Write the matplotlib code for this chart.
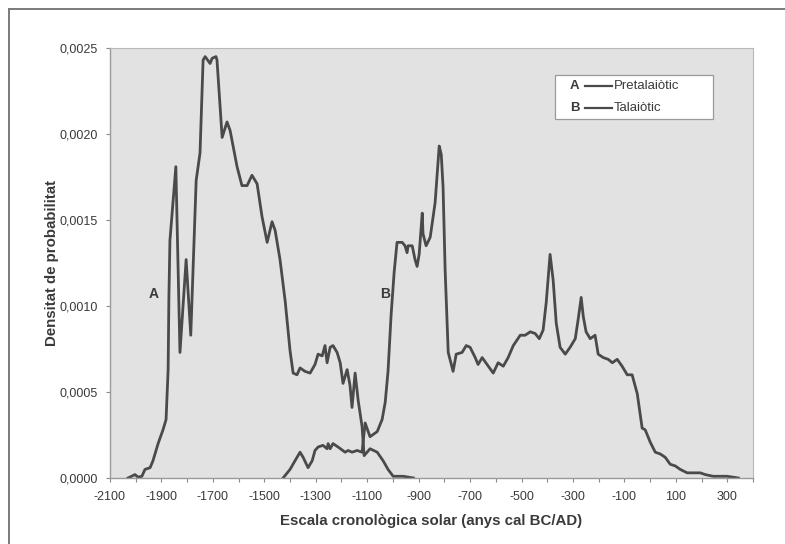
import matplotlib
matplotlib.use("Agg")
import matplotlib.pyplot as plt
from matplotlib.lines import Line2D
from matplotlib.patches import Rectangle
from matplotlib.ticker import FuncFormatter, MultipleLocator, FixedLocator

plt.rcParams['font.family'] = ['Liberation Sans', 'DejaVu Sans']

# Summed calibrated probability densities (year cal BC/AD, density)
pretalaiotic_years = [
    -2030, -2016, -2003, -1991, -1976, -1964, -1944, -1933, -1913, -1894,
    -1882, -1874, -1871, -1867, -1844, -1828, -1804, -1786, -1765, -1750,
    -1738, -1730, -1711, -1703, -1688, -1684, -1664, -1645, -1633, -1606,
    -1587, -1567, -1548, -1528, -1509, -1489, -1470, -1458, -1439, -1419,
    -1400, -1388, -1373, -1361, -1342, -1322, -1303, -1291, -1275, -1264,
    -1256, -1244, -1233, -1217, -1205, -1194, -1178, -1167, -1159, -1147,
    -1135, -1120, -1112, -1089, -1061, -1038, -1019, -999, -960, -920,
]
pretalaiotic_density = [
    0.0, 0.00001, 0.00002, 0.000005, 0.00001, 0.00005, 0.00006, 0.0001, 0.0002, 0.00028,
    0.00034, 0.00063, 0.00105, 0.00138, 0.00181, 0.00073, 0.00127, 0.00083, 0.00173, 0.00189,
    0.00243, 0.00245, 0.00241, 0.00244, 0.00245, 0.00243, 0.00198, 0.00207, 0.00202, 0.00181,
    0.0017, 0.0017, 0.00176, 0.00171, 0.00152, 0.00137, 0.00149, 0.00144, 0.00127, 0.00103,
    0.00074, 0.00061, 0.0006, 0.00064, 0.00062, 0.00061, 0.00066, 0.00072, 0.00071, 0.00077,
    0.00067, 0.00076, 0.00077, 0.00073, 0.00067, 0.00055, 0.00063, 0.00054, 0.00041, 0.00061,
    0.00045, 0.0003, 0.00013, 0.00017, 0.00015, 0.0001, 0.00005, 0.00001, 0.00001, 0.0,
]

talaiotic_years = [
    -1427, -1400, -1373, -1361, -1349, -1330, -1314, -1303, -1291, -1272,
    -1256, -1252, -1244, -1233, -1213, -1186, -1174, -1159, -1139, -1120,
    -1108, -1089, -1061, -1042, -1030, -1019, -1007, -995, -984, -964,
    -953, -945, -941, -925, -914, -906, -898, -886, -883, -871,
    -855, -836, -820, -812, -805, -797, -785, -766, -754, -731,
    -715, -700, -680, -669, -653, -634, -610, -591, -571, -552,
    -532, -505, -486, -466, -447, -431, -416, -404, -389, -377,
    -365, -350, -330, -311, -291, -280, -268, -260, -249, -233,
    -214, -202, -182, -163, -147, -128, -109, -89, -70, -50,
    -31, -19, 0, 20, 39, 59, 78, 98, 117, 144,
    195, 214, 245, 300, 343,
]
talaiotic_density = [
    0.0, 0.00005, 0.00012, 0.00015, 0.00012, 0.00006, 0.0001, 0.00016, 0.00018, 0.00019,
    0.00017, 0.0002, 0.00017, 0.0002, 0.00018, 0.00015, 0.00016, 0.00015, 0.00016, 0.00015,
    0.00032, 0.00024, 0.00027, 0.00034, 0.00044, 0.00062, 0.00095, 0.0012, 0.00137, 0.00137,
    0.00135, 0.00131, 0.00135, 0.00135, 0.00127, 0.00123, 0.0013, 0.00154, 0.00142, 0.00135,
    0.0014, 0.0016, 0.00193, 0.00188, 0.00169, 0.00121, 0.00073, 0.00062, 0.00072, 0.00073,
    0.00077, 0.00076, 0.0007, 0.00066, 0.0007, 0.00066, 0.00061, 0.00067, 0.00065, 0.0007,
    0.00077, 0.00083, 0.00083, 0.00085, 0.00084, 0.00081, 0.00086, 0.00102, 0.0013, 0.00115,
    0.0009, 0.00076, 0.00072, 0.00076, 0.00081, 0.00092, 0.00105, 0.00094, 0.00085, 0.00081,
    0.00083, 0.00072, 0.0007, 0.00069, 0.00067, 0.00069, 0.00065, 0.0006, 0.0006, 0.00049,
    0.00029, 0.00028, 0.00021, 0.00015, 0.00014, 0.00012, 0.00008, 0.00007, 0.00005, 0.00003,
    0.00003, 0.00002, 0.00001, 0.00001, 0.0,
]

series_letters = ["A", "B"]
series_names = ["Pretalaiòtic", "Talaiòtic"]

x_tick_labels = [-2100, -1900, -1700, -1500, -1300, -1100, -900, -700, -500, -300, -100, 100, 300]
y_tick_values = [0.0, 0.0005, 0.0010, 0.0015, 0.0020, 0.0025]

line_color = "#4a4a4a"
text_color = "#3a3a3a"

fig = plt.figure(figsize=(7.85, 5.44), dpi=100)
ax = fig.add_axes([110 / 785, 1 - 478 / 544, 643 / 785, 430 / 544])
ax.set_facecolor("#e2e2e2")

# page frame lines
fig.add_artist(Line2D([9 / 785, 1.0], [1 - 9 / 544, 1 - 9 / 544], color="#7a7a7a", lw=1.4,
                      transform=fig.transFigure))
fig.add_artist(Line2D([9 / 785, 9 / 785], [0.0, 1 - 9 / 544], color="#7a7a7a", lw=1.4,
                      transform=fig.transFigure))

ax.plot(pretalaiotic_years, pretalaiotic_density, color=line_color, lw=2.0, solid_joinstyle="round")
ax.plot(talaiotic_years, talaiotic_density, color=line_color, lw=2.0, solid_joinstyle="round")

ax.set_xlim(-2100, 400)
ax.set_ylim(0, 0.0025)

ax.xaxis.set_major_locator(FixedLocator(x_tick_labels))
ax.xaxis.set_minor_locator(MultipleLocator(100))
ax.yaxis.set_major_locator(FixedLocator(y_tick_values))
ax.yaxis.set_major_formatter(FuncFormatter(lambda v, p: f"{v:.4f}".replace(".", ",")))
ax.xaxis.set_major_formatter(FuncFormatter(lambda v, p: f"{int(v)}"))

ax.tick_params(axis="both", which="both", direction="out", length=3, width=0.8,
               color="#8a8a8a", labelcolor=text_color, labelsize=9, pad=6)
ax.tick_params(axis="x", which="minor", length=3)

for side in ["top", "right"]:
    ax.spines[side].set_color("#b8b8b8")
    ax.spines[side].set_linewidth(0.8)
for side in ["left", "bottom"]:
    ax.spines[side].set_color("#9a9a9a")
    ax.spines[side].set_linewidth(1.0)

ax.set_xlabel("Escala cronològica solar (anys cal BC/AD)", fontsize=10.8, fontweight="bold",
              color=text_color, labelpad=8)
ax.set_ylabel("Densitat de probabilitat", fontsize=10.8, fontweight="bold",
              color=text_color, labelpad=0)

# curve letters
ax.text(-1930, 0.00107, series_letters[0], fontsize=10, fontweight="bold", color=text_color,
        ha="center", va="center")
ax.text(-1030, 0.00107, series_letters[1], fontsize=10, fontweight="bold", color=text_color,
        ha="center", va="center")

# legend box
ax.add_patch(Rectangle((0.692, 0.835), 0.246, 0.102, transform=ax.transAxes,
                       facecolor="white", edgecolor="#9a9a9a", lw=0.9, zorder=5))
rows_y = [0.911, 0.860]
for letter, name, yy in zip(series_letters, series_names, rows_y):
    ax.text(0.723, yy, letter, transform=ax.transAxes, fontsize=9.5, fontweight="bold",
            color=text_color, ha="center", va="center", zorder=6)
    ax.add_line(Line2D([0.738, 0.780], [yy, yy], transform=ax.transAxes, color=line_color,
                       lw=1.6, zorder=6))
    ax.text(0.783, yy, name, transform=ax.transAxes, fontsize=9.5, color=text_color,
            ha="left", va="center", zorder=6)

fig.savefig("out.png", dpi=100)
